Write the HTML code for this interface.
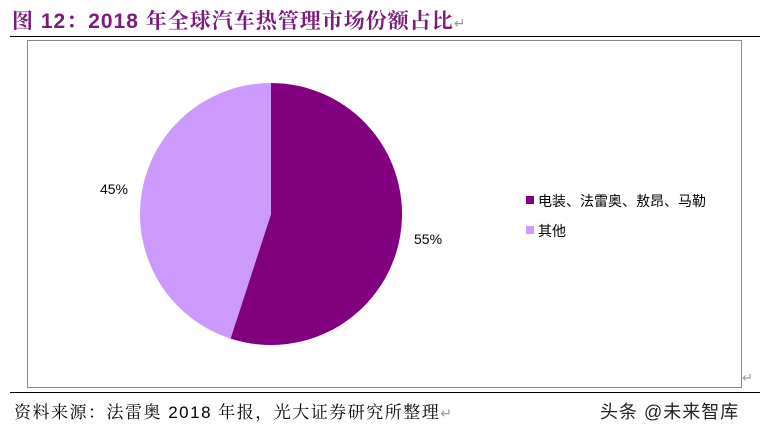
<!DOCTYPE html>
<html><head><meta charset="utf-8"><style>
body{margin:0;width:760px;height:429px;background:#fff;overflow:hidden;position:relative;font-family:"Liberation Sans","Noto Sans CJK SC",sans-serif}
.t{position:absolute;left:12px;top:5px;font-size:21px;letter-spacing:1px;font-weight:bold;color:#7a1a7a;font-family:"Liberation Sans","Noto Serif CJK SC",serif;white-space:nowrap}
</style></head><body>
<div class="t">图 12：2018 年全球汽车热管理市场份额占比<span style="color:#999;font-weight:normal;font-size:14px">↵</span></div>
<div style="position:absolute;left:10px;top:36px;width:750px;height:1px;background:#000"></div>
<div style="position:absolute;left:27px;top:40px;width:713px;height:346px;border:1px solid #888"></div>
<svg id="c" width="760" height="429" style="position:absolute;left:0;top:0"></svg>
<div style="position:absolute;left:10px;top:392px;width:750px;height:1px;background:#000"></div>
<div style="position:absolute;left:14px;top:398px;font-size:17px;letter-spacing:1.5px;color:#000;font-family:'Liberation Sans','Noto Serif CJK SC',serif;white-space:nowrap">资料来源：法雷奥 2018 年报，光大证券研究所整理<span style="color:#999;font-size:14px">↵</span></div>
<div style="position:absolute;left:600px;top:398px;font-size:18px;letter-spacing:1px;color:#222;white-space:nowrap">头条 @未来智库</div>
<div style="position:absolute;left:742px;top:370px;font-size:13px;color:#999">↵</div>
<script>
const categories=["电装、法雷奥、敖昂、马勒","其他"];
const values=[55,45];
const labels=["55%","45%"];
const colors=["#800080","#cc99ff"];
const svg=document.getElementById('c');const NS="http://www.w3.org/2000/svg";
const cx=271,cy=214,r=131;
const total=values.reduce((a,b)=>a+b,0);
let a0=-Math.PI/2;
values.forEach((v,i)=>{
 const a1=a0+v/total*2*Math.PI;
 const p=document.createElementNS(NS,'path');
 const x0=cx+r*Math.cos(a0),y0=cy+r*Math.sin(a0),x1=cx+r*Math.cos(a1),y1=cy+r*Math.sin(a1);
 p.setAttribute('d',`M${cx},${cy}L${x0},${y0}A${r},${r} 0 ${a1-a0>Math.PI?1:0} 1 ${x1},${y1}Z`);
 p.setAttribute('fill',colors[i]);
 
 
 svg.appendChild(p);
 const m=(a0+a1)/2,lr=r+28;
 const t=document.createElementNS(NS,'text');
 t.setAttribute('x',cx+lr*Math.cos(m));t.setAttribute('y',cy+lr*Math.sin(m)+5);
 t.setAttribute('text-anchor','middle');t.setAttribute('font-size','14');
 t.setAttribute('font-family','Liberation Sans, sans-serif');
 t.textContent=labels[i];
 
 
 svg.appendChild(t);
 const ly=201+i*30;
 const s=document.createElementNS(NS,'rect');
 s.setAttribute('x',526);s.setAttribute('y',ly-5);s.setAttribute('width',8);s.setAttribute('height',8);s.setAttribute('fill',colors[i]);
 
 
 svg.appendChild(s);
 const lt=document.createElementNS(NS,'text');
 lt.setAttribute('x',538);lt.setAttribute('y',ly+5);lt.setAttribute('font-size','14');
 lt.setAttribute('font-family','Liberation Sans, Noto Sans CJK SC, sans-serif');
 lt.textContent=categories[i];
 
 
 svg.appendChild(lt);
 a0=a1;
});
</script>
</body></html>
